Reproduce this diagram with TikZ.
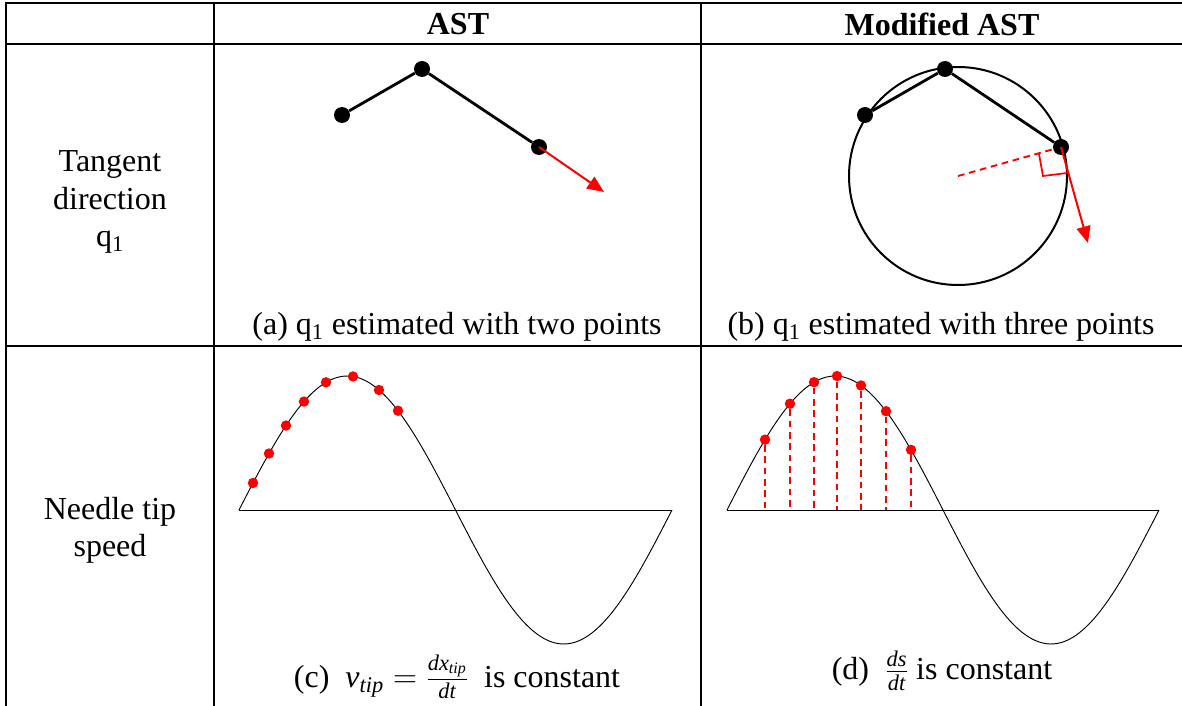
\documentclass[tikz,border=0pt]{standalone}
\usepackage{amsmath}
\usepackage{fontspec}
\setmainfont{Liberation Serif}
\usetikzlibrary{arrows.meta,calc}

\tikzset{
  rule/.style={line width=2.2pt},
  bigdot/.style={circle,fill=black,inner sep=0pt,minimum size=12pt},
  reddot/.style={circle,fill=red,inner sep=0pt,minimum size=7.8pt},
  seg/.style={line width=2.1pt},
  tanarrow/.style={red,line width=1.5pt,-{Triangle[length=12.5pt,width=10.5pt]}},
  drop/.style={red,line width=1.4pt,dash pattern=on 5pt off 3.5pt},
  wave/.style={line width=0.7pt},
  cell/.style={align=center,inner sep=0pt,font=\fontsize{24}{28}\selectfont}
}

\begin{document}
\begin{tikzpicture}[x=0.75pt,y=-0.75pt]
\useasboundingbox (0,0) rectangle (1182,706);

% table rules
\draw[rule] (5,3) -- (1182,3);
\draw[rule] (5,44) -- (1182,44);
\draw[rule] (5,346) -- (1182,346);
\draw[rule] (6,2) -- (6,706);
\draw[rule] (214,2) -- (214,706);
\draw[rule] (701,2) -- (701,706);

% headers and row labels
\node[cell,font=\fontsize{24}{28}\selectfont\bfseries] (hast) at (458,24) {AST};
\node[cell,font=\fontsize{24}{28}\selectfont\bfseries] (hmod) at (942,24) {Modified AST};
\node[cell] (rtan) at (110,202) {Tangent\\direction\\q\textsubscript{1}};
\node[cell] (rspd) at (110,530) {Needle tip\\speed};

% (a) two points
\node[bigdot] (a1) at (342,115) {};
\node[bigdot] (a2) at (422,69) {};
\node[bigdot] (a3) at (539,147) {};
\coordinate (a4) at (604,192);
\draw[seg] (a1) -- (a2) -- (a3);
\draw[tanarrow] (a3.center) -- (a4);
\node[cell] (capa) at (457,327) {(a) q\textsubscript{1} estimated with two points};

% (b) three points on a circle
\coordinate (ctr) at (958,176);
\draw[line width=1.5pt] (ctr) circle (109);
\node[bigdot] (b1) at (865,115) {};
\node[bigdot] (b2) at (945,69) {};
\node[bigdot] (b3) at (1061,147) {};
\coordinate (b4) at (1088,243);
\draw[seg] (b1) -- (b2) -- (b3);
\draw[drop] (ctr) -- (b3);
\draw[red,line width=1.3pt] (1039,154) -- (1043,176) -- (1067,173);
\draw[tanarrow] (b3.center) -- (b4);
\node[cell] (capb) at (941,327) {(b) q\textsubscript{1} estimated with three points};

% (c) constant tip speed
\coordinate (cax) at (239,510);
\draw[wave] (cax) -- (672,510);
\draw[wave] plot[domain=0:433,samples=120] ({239+\x},{510-134*sin(0.8314*\x)});
\foreach \px [count=\i] in {253,269,286,304,326,353,379,398}
  \node[reddot] (c\i) at ({\px},{510-134*sin(0.8314*(\px-239))}) {};
\node[cell] (capc) at (457,677) {(c)~~\textit{v}$_{\textit{tip}}=\frac{\textit{dx}_{\textit{tip}}}{\textit{dt}}$~ is constant};

% (d) constant arc speed
\coordinate (dax) at (727,510);
\draw[wave] (dax) -- (1159,510);
\draw[wave] plot[domain=0:432,samples=120] ({727+\x},{510-134*sin(0.8333*\x)});
\foreach \px [count=\i] in {765,790,814,837,861,886,911} {
  \node[reddot] (d\i) at ({\px},{510-134*sin(0.8333*(\px-727))}) {};
  \draw[drop] (d\i) -- (d\i |- dax);
}
\node[cell] (capd) at (942,671) {(d)~~$\frac{\textit{ds}}{\textit{dt}}$ is constant};
\end{tikzpicture}
\end{document}
